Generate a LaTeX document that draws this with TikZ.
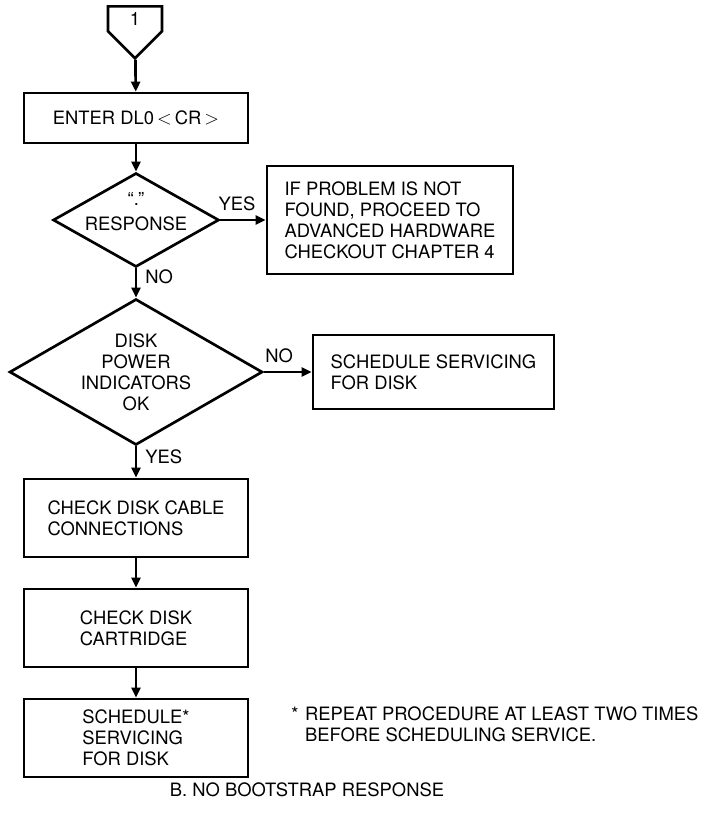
\documentclass[tikz,border=0pt]{standalone}
\usepackage{fontspec}
\setmainfont{TeX Gyre Heros}
\usetikzlibrary{positioning}
\usetikzlibrary{arrows.meta}
\usetikzlibrary{shapes.geometric,shapes.symbols}

\begin{document}
\begin{tikzpicture}[line width=2pt,on grid,auto,
   font=\fontsize{13.8}{15.75}\selectfont,
   >={Triangle[length=7.5pt,width=6.75pt]},
   box/.style={draw,rectangle,align=left,inner sep=0pt},
   test/.style={draw,diamond,align=center,inner sep=0pt},
   lbl/.style={inner sep=6pt},
   conn/.style={draw,signal,signal to=south,signal pointer angle=90,
      minimum width=40.5pt,minimum height=22.5pt,inner sep=0pt}] 
   \useasboundingbox (0,0) rectangle (528.75pt,-615.75pt);
   \node[conn,anchor=north] (c1) at (101.25pt,-3.75pt) {1};
   \node[box,minimum width=168pt,minimum height=37.5pt] (enter) at (102pt,-88.5pt) {ENTER DL0\,$<$\,CR\,$>$};
   \node[test,aspect=1.77,minimum width=124.5pt,minimum height=70.5pt,text height=16pt,text depth=0pt] (resp) [below=76.5pt of enter] {``.''\\[3pt]RESPONSE};
   \node[box,minimum width=184.5pt,minimum height=81pt] (found) [right=190.5pt of resp] {IF PROBLEM IS NOT\\FOUND, PROCEED TO\\ADVANCED HARDWARE\\CHECKOUT CHAPTER 4};
   \node[test,aspect=1.73,minimum width=189.75pt,minimum height=109.5pt] (pow) [below=114pt of resp] {DISK\\POWER\\INDICATORS\\OK};
   \node[box,minimum width=180.75pt,minimum height=55.5pt] (svc) [right=223.1pt of pow] {SCHEDULE SERVICING\\FOR DISK};
   \node[box,minimum width=168pt,minimum height=58.5pt] (cable) [below=109.5pt of pow] {CHECK DISK CABLE\\CONNECTIONS};
   \node[box,minimum width=168pt,minimum height=58.5pt] (cart) [below=82.5pt of cable] {CHECK DISK\\CARTRIDGE};
   \node[box,minimum width=168pt,minimum height=58.5pt] (sched) [below=82.5pt of cart] {SCHEDULE*\\SERVICING\\FOR DISK};
   \node[anchor=west,inner sep=0pt] (note) at ([shift={(115.5pt,8.25pt)}]sched.center)
      {\begin{tabular}{@{}l@{\hspace{5pt}}l@{}}*&REPEAT PROCEDURE AT LEAST TWO TIMES\\&BEFORE SCHEDULING SERVICE.\end{tabular}};
   \node (cap) at (230.25pt,-592.5pt) {B. NO BOOTSTRAP RESPONSE};
    \path[->] 
    (c1) edge (enter)
    (enter) edge (resp)
    (resp) edge node[lbl,pos=0.37] {YES} (found)
           edge node[lbl,pos=0.3] {NO} (pow)
    (pow) edge node[lbl,pos=0.32] {NO} (svc)
          edge node[lbl,pos=0.32] {YES} (cable)
    (cable) edge (cart)
    (cart) edge (sched);
\end{tikzpicture}
\end{document}
